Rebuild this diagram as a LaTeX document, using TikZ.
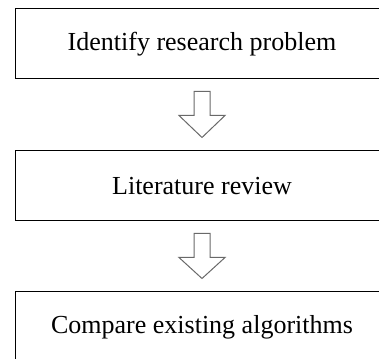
\documentclass[tikz,border=0pt]{standalone}
\usepackage{fontspec}
\setmainfont{Liberation Serif}
\usepackage{tikz}
\usetikzlibrary{
	calc,											% coordinate calculation
	positioning,									% relative placement
}
\definecolor{arrowgray}{RGB}{105,105,105}

\begin{document}
\begin{tikzpicture}[x=1pt, y=1pt,
		stepbox/.style={draw=black, line width=1pt, minimum width=374pt, minimum height=70pt,
			inner sep=0pt, font=\fontsize{26}{31}\selectfont},
		hollowarrow/.style={draw=arrowgray, line width=1pt, fill=white, line join=miter}]
		\useasboundingbox (0,0) rectangle (379,358);
		\clip (0,0) rectangle (379,358);
		\node[stepbox] (identify) at (202,314) {Identify research problem};
		\node[stepbox, below=71pt of identify] (review) {Literature review};
		\node[stepbox, below=70pt of review] (compare) {Compare existing algorithms};
		% shaft 16pt wide, head 46pt wide
		\foreach \from/\to in {identify/review, review/compare}
			\draw[hollowarrow] ($(\from.south)+(-8,-12)$) -- ++(0,-24) -- ++(-15,0)
				-- ($(\to.north)+(0,13)$) -- ($(\from.south)+(23,-36)$) -- ++(-15,0) -- ++(0,24) -- cycle;
	\end{tikzpicture}
\end{document}
